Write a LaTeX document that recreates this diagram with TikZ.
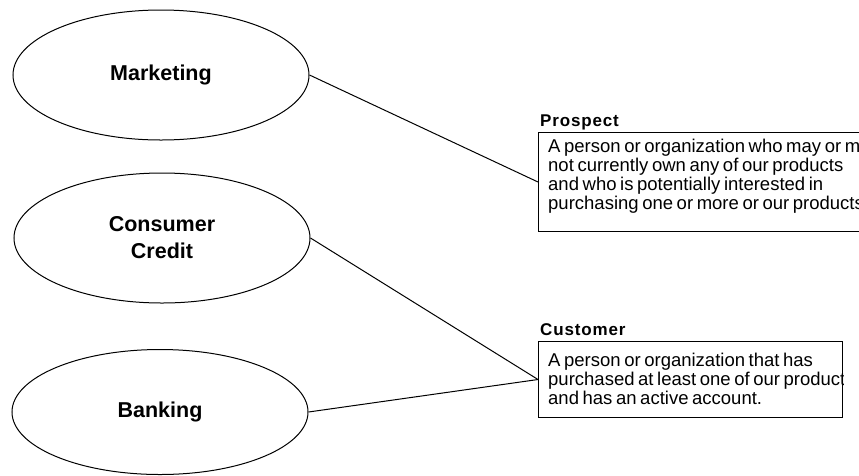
\documentclass[tikz,border=0pt]{standalone}
\usepackage{fontspec}
\setmainfont{Liberation Sans}
\newfontfamily\boitefont[WordSpace=0.7]{Liberation Sans}
\usetikzlibrary{shapes.geometric}
\begin{document}
\begin{tikzpicture}[x=1pt, y=-1pt]
	\tikzset{ovale/.style={ellipse, draw=black, line width=1pt, minimum width=296pt, minimum height=130pt, inner sep=0pt, align=center, font=\fontsize{21.5}{27}\selectfont\bfseries},
		boite/.style={rectangle, draw=black, line width=1pt, inner sep=0pt, anchor=north west},
		titre/.style={anchor=base west, inner sep=0pt, font=\fontsize{17}{19}\selectfont\bfseries\addfontfeature{LetterSpace=5}},
		texte/.style={anchor=north west, inner sep=0pt, align=left, font=\boitefont\fontsize{18.5}{19}\selectfont},
		lien/.style={line width=1pt}};

	\useasboundingbox (0,0) rectangle (859,475);

	\node[ovale] (mkt)  at (161,  75) {Marketing};
	\node[ovale] (cc)   at (162, 238) {Consumer\\Credit};
	\node[ovale, minimum height=125pt] (bank) at (160, 412) {Banking};

	\node[boite, minimum width=340pt, minimum height=99pt] (pro) at (538, 132) {};
	\node[boite, minimum width=304pt, minimum height=76pt] (cus) at (538, 341) {};

	\node[titre] (protit) at (540, 126) {Prospect};
	\node[titre] (custit) at (540, 335) {Customer};

	\begin{scope}
		\clip (pro.north west) rectangle (pro.south east);
		\node[texte] (protxt) at (548, 139) {A person or organization who may or may\\not currently own any of our products\\and who is potentially interested in\\purchasing one or more or our products};
	\end{scope}
	\begin{scope}
		\clip (cus.north west) rectangle (cus.south east);
		\node[texte] (custxt) at (548, 353) {A person or organization that has\\purchased at least one of our products\\and has an active account.};
	\end{scope}

	\draw[lien] (mkt.east)  -- (pro.west);
	\draw[lien] (cc.east)   -- (cus.west);
	\draw[lien] (bank.east) -- (cus.west);

\end{tikzpicture}
\end{document}
